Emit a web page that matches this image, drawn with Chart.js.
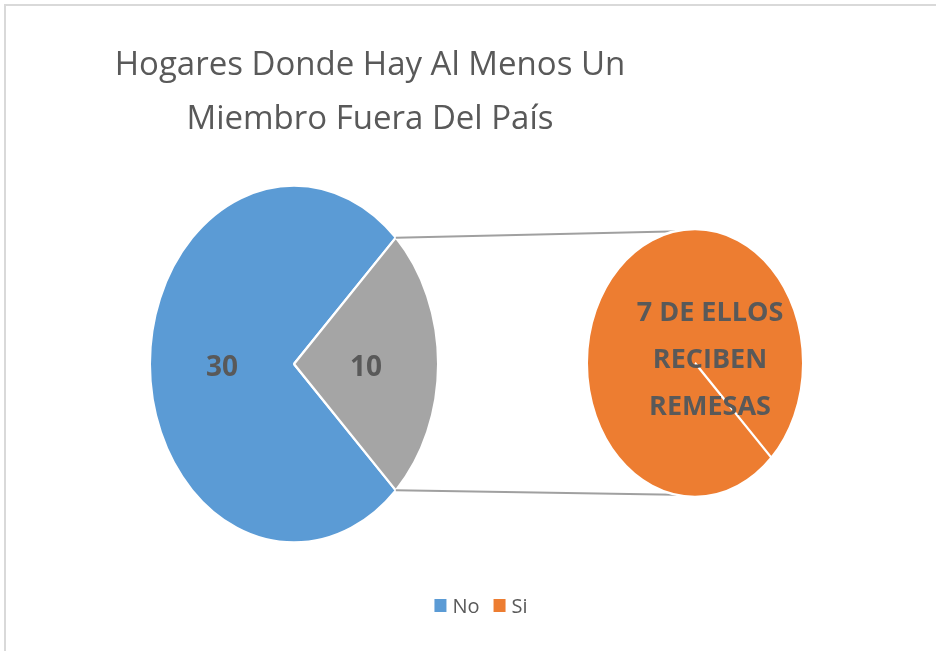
<!DOCTYPE html>
<html>
<head>
<meta charset="utf-8">
<script src="https://cdn.jsdelivr.net/npm/chart.js@4"></script>
<style>
  html, body { margin: 0; padding: 0; background: #fff; }
  #wrap { position: relative; width: 936px; height: 651px; overflow: hidden; background: #fff; }
  #frame { position: absolute; left: 4px; top: 4px; width: 1000px; height: 700px;
           border-left: 2px solid #d9d9d9; border-top: 2px solid #d9d9d9; }
  canvas { position: absolute; left: 0; top: 0; }
  #second { pointer-events: none; }
</style>
</head>
<body>
<div id="wrap">
  <div id="frame"></div>
  <canvas id="main" width="936" height="651"></canvas>
  <canvas id="second" width="936" height="651"></canvas>
</div>
<script>
// data
const categories = ['No', 'Si'];
const hogares = [30, 10];
const subCategories = ['Si'];
const subValues = [10];
const reciben = 7;
const titleLines = ['Hogares Donde Hay Al Menos Un', 'Miembro Fuera Del País'];
const subLabel = [reciben + ' DE ELLOS', 'RECIBEN', 'REMESAS'];

const BLUE = '#5b9bd5', ORANGE = '#ed7d31', GRAY = '#a5a5a5', TEXT = '#595959';
const legendColors = [BLUE, ORANGE];
const SY = 1.24; // excel stretched the pies vertically

// squash/stretch the pie drawing around its center
const stretch = {
  id: 'stretch',
  beforeDatasetsDraw(chart) {
    const arc = chart.getDatasetMeta(0).data[0];
    const ctx = chart.ctx;
    ctx.save();
    ctx.translate(arc.x, arc.y);
    ctx.scale(1, SY);
    ctx.translate(-arc.x, -arc.y);
  },
  afterDatasetsDraw(chart) {
    chart.ctx.restore();
  }
};

const mainDecor = {
  id: 'mainDecor',
  afterDatasetsDraw(chart) {
    const ctx = chart.ctx;
    const meta = chart.getDatasetMeta(0);
    ctx.save();
    ctx.fillStyle = TEXT;
    ctx.font = 'bold 28px "Open Sans"';
    ctx.textAlign = 'center';
    ctx.textBaseline = 'middle';
    meta.data.forEach((arc, i) => {
      const mid = (arc.startAngle + arc.endAngle) / 2;
      const r = arc.outerRadius * 0.5;
      ctx.fillText(String(hogares[i]), arc.x + r * Math.cos(mid), arc.y + SY * r * Math.sin(mid) + 4);
    });

    // title
    ctx.font = '33px "Open Sans"';
    titleLines.forEach((t, i) => ctx.fillText(t, 370, 66 + i * 54));

    // legend
    ctx.font = '20px "Open Sans"';
    ctx.textAlign = 'left';
    const widths = categories.map(c => ctx.measureText(c).width);
    const total = widths.reduce((a, w) => a + 12 + 6 + w, 0) + 14 * (categories.length - 1);
    let x = 481 - total / 2;
    categories.forEach((c, i) => {
      ctx.fillStyle = legendColors[i];
      ctx.fillRect(x, 599, 12, 13);
      ctx.fillStyle = TEXT;
      ctx.fillText(c, x + 18, 607);
      x += 12 + 6 + widths[i] + 14;
    });
    ctx.restore();
  }
};

const mainChart = new Chart(document.getElementById('main'), {
  type: 'pie',
  data: {
    labels: categories,
    datasets: [{ data: hogares, backgroundColor: [BLUE, GRAY], borderColor: '#fff', borderWidth: 2 }]
  },
  options: {
    responsive: false,
    animation: false,
    rotation: 135,
    layout: { padding: { left: 149, right: 497, top: 219, bottom: 142 } },
    plugins: { legend: { display: false }, title: { display: false }, tooltip: { enabled: false } }
  },
  plugins: [stretch, mainDecor]
});

// lines from the gray slice to the second pie, drawn under it
const connectors = {
  id: 'connectors',
  beforeDatasetsDraw(chart) {
    const g = mainChart.getDatasetMeta(0).data[1];
    const s = chart.getDatasetMeta(0).data[0];
    const ctx = chart.ctx;
    const p1 = [g.x + g.outerRadius * Math.cos(g.startAngle), g.y + SY * g.outerRadius * Math.sin(g.startAngle)];
    const p2 = [g.x + g.outerRadius * Math.cos(g.endAngle), g.y + SY * g.outerRadius * Math.sin(g.endAngle)];
    const top = [s.x - 4, s.y - SY * s.outerRadius + 2];
    const bot = [s.x - 4, s.y + SY * s.outerRadius - 2];
    ctx.save();
    ctx.strokeStyle = '#a0a0a0';
    ctx.lineWidth = 2;
    ctx.beginPath();
    ctx.moveTo(p1[0], p1[1]); ctx.lineTo(top[0], top[1]);
    ctx.moveTo(p2[0], p2[1]); ctx.lineTo(bot[0], bot[1]);
    ctx.stroke();
    ctx.restore();
  }
};

const subDecor = {
  id: 'subDecor',
  afterDatasetsDraw(chart) {
    const s = chart.getDatasetMeta(0).data[0];
    const ctx = chart.ctx;
    ctx.save();
    ctx.fillStyle = TEXT;
    ctx.font = 'bold 27px "Open Sans"';
    ctx.textAlign = 'center';
    ctx.textBaseline = 'middle';
    subLabel.forEach((t, i) => ctx.fillText(t, s.x + 15, s.y - 53 + i * 47 + 3));
    ctx.restore();
  }
};

new Chart(document.getElementById('second'), {
  type: 'pie',
  data: {
    labels: subCategories,
    datasets: [{ data: subValues, backgroundColor: [ORANGE], borderColor: '#fff', borderWidth: 2 }]
  },
  options: {
    responsive: false,
    animation: false,
    rotation: 135,
    layout: { padding: { left: 586, right: 132, top: 254, bottom: 179 } },
    plugins: { legend: { display: false }, title: { display: false }, tooltip: { enabled: false } }
  },
  plugins: [connectors, stretch, subDecor]
});
</script>
</body>
</html>
